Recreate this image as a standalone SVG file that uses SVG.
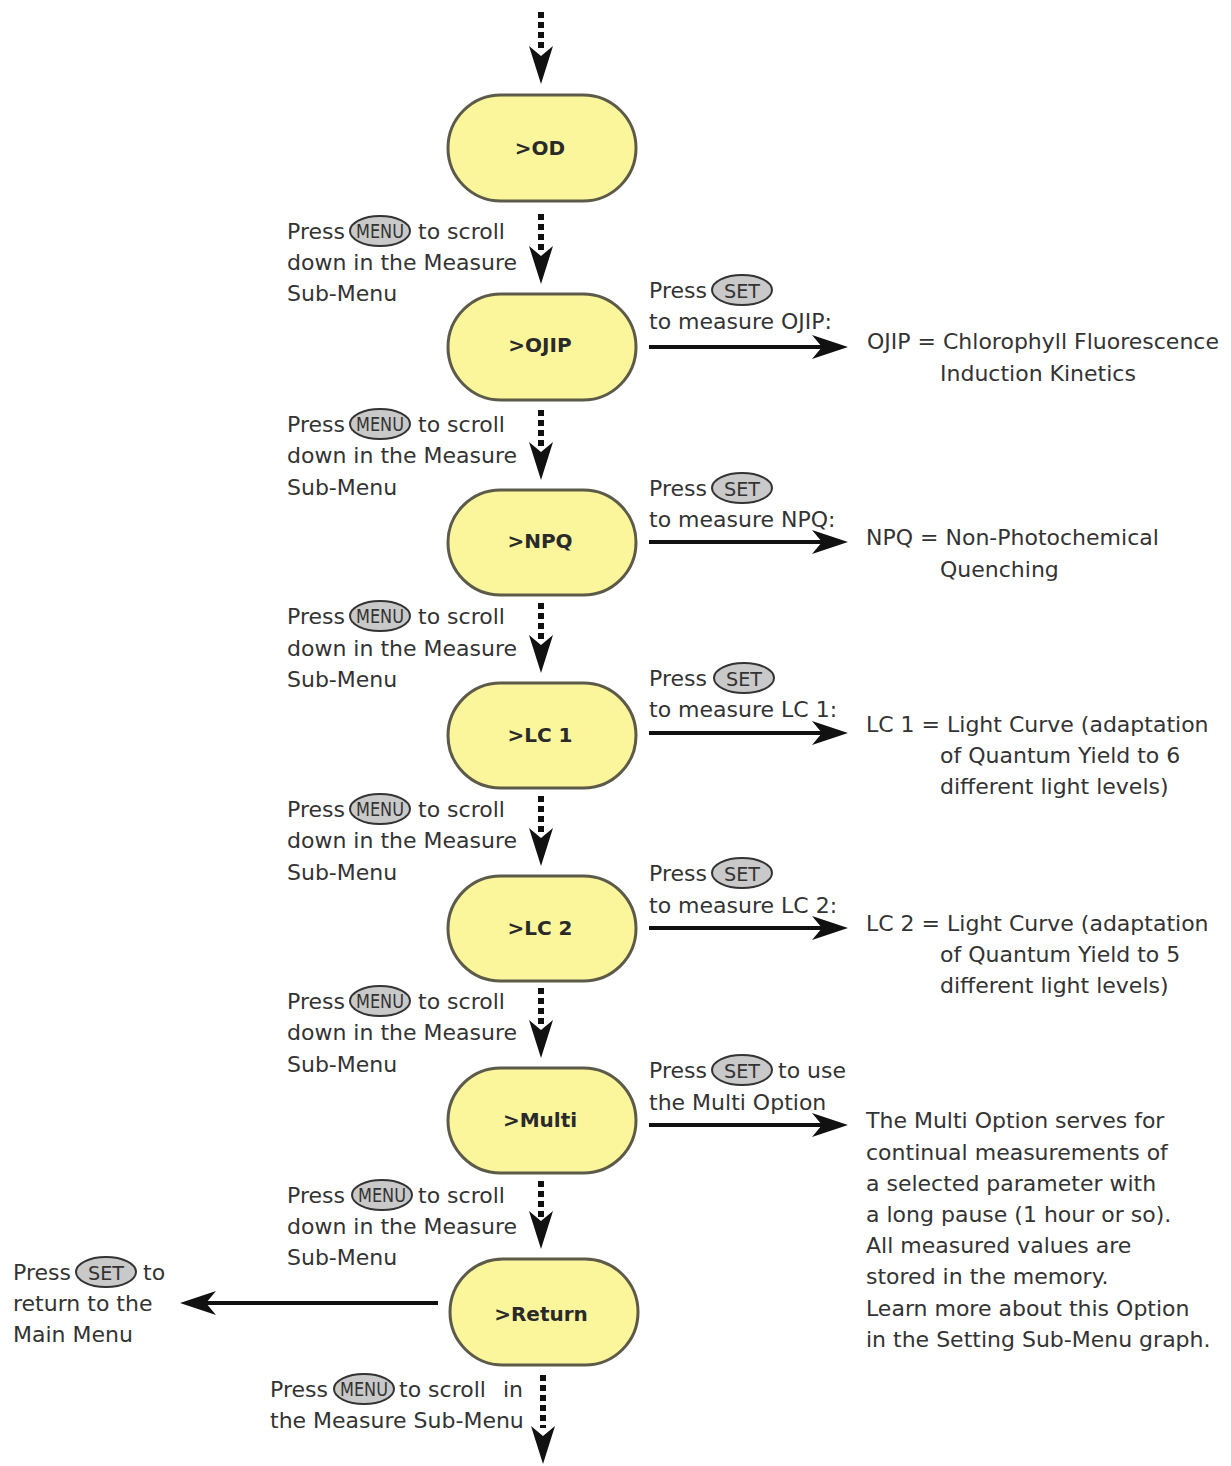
<svg xmlns="http://www.w3.org/2000/svg" xmlns:xlink="http://www.w3.org/1999/xlink" width="1231" height="1466" viewBox="0 0 1231 1466">
<style>
.node rect{fill:#fbf69c;stroke:#5c5a48;stroke-width:3}
.node text{font-family:"DejaVu Sans",sans-serif;font-weight:bold;font-size:20px;fill:#2a2a2a;text-anchor:middle}
.t{font-family:"DejaVu Sans",sans-serif;font-size:22px;fill:#333}
.btn ellipse{fill:#c9c9c9;stroke:#333;stroke-width:2}
.btn text{font-family:"DejaVu Sans Condensed","DejaVu Sans",sans-serif;font-size:19px;fill:#333;text-anchor:middle}
.dot{stroke:#111;stroke-width:6;stroke-dasharray:6 4;fill:none}
.sl{stroke:#111;stroke-width:4;fill:none}
.ah{fill:#111}
</style>
<defs>
<path id="hd" d="M0,0 L-12,-38 L0,-28 L12,-38 Z"/>
<path id="hr" d="M0,0 L-36,-12 L-26,0 L-36,12 Z"/>
</defs>
<rect width="1231" height="1466" fill="#fff"/>
<g id="connectors">
<line class="dot" x1="541" y1="12" x2="541" y2="50"/>
<use href="#hd" class="ah" x="541" y="84"/>
<line class="dot" x1="541" y1="214" x2="541" y2="254"/>
<use href="#hd" class="ah" x="541" y="284"/>
<line class="dot" x1="541" y1="410" x2="541" y2="450"/>
<use href="#hd" class="ah" x="541" y="480"/>
<line class="dot" x1="541" y1="603" x2="541" y2="643"/>
<use href="#hd" class="ah" x="541" y="673"/>
<line class="dot" x1="541" y1="796" x2="541" y2="836"/>
<use href="#hd" class="ah" x="541" y="866"/>
<line class="dot" x1="541" y1="988" x2="541" y2="1028"/>
<use href="#hd" class="ah" x="541" y="1058"/>
<line class="dot" x1="541" y1="1181" x2="541" y2="1221"/>
<use href="#hd" class="ah" x="541" y="1249"/>
<line class="dot" x1="543" y1="1375" x2="543" y2="1428"/>
<use href="#hd" class="ah" x="543" y="1464"/>
<line class="sl" x1="649" y1="347" x2="826" y2="347"/>
<use href="#hr" class="ah" x="848" y="347"/>
<line class="sl" x1="649" y1="542" x2="826" y2="542"/>
<use href="#hr" class="ah" x="848" y="542"/>
<line class="sl" x1="649" y1="733" x2="826" y2="733"/>
<use href="#hr" class="ah" x="848" y="733"/>
<line class="sl" x1="649" y1="928" x2="826" y2="928"/>
<use href="#hr" class="ah" x="848" y="928"/>
<line class="sl" x1="649" y1="1125" x2="826" y2="1125"/>
<use href="#hr" class="ah" x="848" y="1125"/>
<line class="sl" x1="438" y1="1303" x2="202" y2="1303"/>
<use href="#hr" class="ah" transform="translate(180,1303) rotate(180)"/>
</g>
<g id="n-od" class="node"><rect x="448" y="95" width="188" height="106" rx="53"/><text x="540" y="155">&gt;OD</text></g>
<g id="n-ojip" class="node"><rect x="448" y="294" width="188" height="106" rx="53"/><text x="540" y="352">&gt;OJIP</text></g>
<g id="n-npq" class="node"><rect x="448" y="490" width="188" height="105" rx="52.5"/><text x="540" y="548">&gt;NPQ</text></g>
<g id="n-lc1" class="node"><rect x="448" y="683" width="188" height="105" rx="52.5"/><text x="540" y="742">&gt;LC 1</text></g>
<g id="n-lc2" class="node"><rect x="448" y="876" width="188" height="105" rx="52.5"/><text x="540" y="935">&gt;LC 2</text></g>
<g id="n-multi" class="node"><rect x="448" y="1068" width="188" height="105" rx="52.5"/><text x="540" y="1127">&gt;Multi</text></g>
<g id="n-return" class="node"><rect x="450" y="1259" width="188" height="106" rx="53"/><text x="541" y="1321">&gt;Return</text></g>
<g id="labels">
<g id="l1"><text class="t" x="287" y="239">Press</text><g class="btn"><ellipse cx="380" cy="231" rx="30" ry="15"/><text x="380" y="238" textLength="48" lengthAdjust="spacingAndGlyphs">MENU</text></g><text class="t" x="418" y="239">to scroll</text><text class="t" x="287" y="270">down in the Measure</text><text class="t" x="287" y="301">Sub-Menu</text></g>
<g id="l2"><text class="t" x="287" y="432">Press</text><g class="btn"><ellipse cx="380" cy="424" rx="30" ry="15"/><text x="380" y="431" textLength="48" lengthAdjust="spacingAndGlyphs">MENU</text></g><text class="t" x="418" y="432">to scroll</text><text class="t" x="287" y="463">down in the Measure</text><text class="t" x="287" y="495">Sub-Menu</text></g>
<g id="l3"><text class="t" x="287" y="624">Press</text><g class="btn"><ellipse cx="380" cy="616" rx="30" ry="15"/><text x="380" y="623" textLength="48" lengthAdjust="spacingAndGlyphs">MENU</text></g><text class="t" x="418" y="624">to scroll</text><text class="t" x="287" y="656">down in the Measure</text><text class="t" x="287" y="687">Sub-Menu</text></g>
<g id="l4"><text class="t" x="287" y="817">Press</text><g class="btn"><ellipse cx="380" cy="809" rx="30" ry="15"/><text x="380" y="816" textLength="48" lengthAdjust="spacingAndGlyphs">MENU</text></g><text class="t" x="418" y="817">to scroll</text><text class="t" x="287" y="848">down in the Measure</text><text class="t" x="287" y="880">Sub-Menu</text></g>
<g id="l5"><text class="t" x="287" y="1009">Press</text><g class="btn"><ellipse cx="380" cy="1001" rx="30" ry="15"/><text x="380" y="1008" textLength="48" lengthAdjust="spacingAndGlyphs">MENU</text></g><text class="t" x="418" y="1009">to scroll</text><text class="t" x="287" y="1040">down in the Measure</text><text class="t" x="287" y="1072">Sub-Menu</text></g>
<g id="l6"><text class="t" x="287" y="1203">Press</text><g class="btn"><ellipse cx="382" cy="1195" rx="30" ry="15"/><text x="382" y="1202" textLength="48" lengthAdjust="spacingAndGlyphs">MENU</text></g><text class="t" x="418" y="1203">to scroll</text><text class="t" x="287" y="1234">down in the Measure</text><text class="t" x="287" y="1265">Sub-Menu</text></g>
<g id="l7"><text class="t" x="270" y="1397">Press</text><g class="btn"><ellipse cx="364" cy="1389" rx="30" ry="15"/><text x="364" y="1396" textLength="48" lengthAdjust="spacingAndGlyphs">MENU</text></g><text class="t" x="399" y="1397">to scroll</text><text class="t" x="503" y="1397">in</text><text class="t" x="270" y="1428">the Measure Sub-Menu</text></g>
<g id="r1"><text class="t" x="649" y="298">Press</text><g class="btn"><ellipse cx="742" cy="290" rx="30" ry="15"/><text x="742" y="298" font-size="21" textLength="36" lengthAdjust="spacingAndGlyphs">SET</text></g><text class="t" x="649" y="329">to measure OJIP:</text>
<text class="t" x="867" y="349">OJIP = Chlorophyll Fluorescence</text><text class="t" x="940" y="381">Induction Kinetics</text></g>
<g id="r2"><text class="t" x="649" y="496">Press</text><g class="btn"><ellipse cx="742" cy="488" rx="30" ry="15"/><text x="742" y="496" font-size="21" textLength="36" lengthAdjust="spacingAndGlyphs">SET</text></g><text class="t" x="649" y="527">to measure NPQ:</text>
<text class="t" x="866" y="545">NPQ = Non-Photochemical</text><text class="t" x="940" y="577">Quenching</text></g>
<g id="r3"><text class="t" x="649" y="686">Press</text><g class="btn"><ellipse cx="744" cy="678" rx="30" ry="15"/><text x="744" y="686" font-size="21" textLength="36" lengthAdjust="spacingAndGlyphs">SET</text></g><text class="t" x="649" y="717">to measure LC 1:</text>
<text class="t" x="866" y="732">LC 1 = Light Curve (adaptation</text><text class="t" x="940" y="763">of Quantum Yield to 6</text><text class="t" x="940" y="794">different light levels)</text></g>
<g id="r4"><text class="t" x="649" y="881">Press</text><g class="btn"><ellipse cx="742" cy="873" rx="30" ry="15"/><text x="742" y="881" font-size="21" textLength="36" lengthAdjust="spacingAndGlyphs">SET</text></g><text class="t" x="649" y="913">to measure LC 2:</text>
<text class="t" x="866" y="931">LC 2 = Light Curve (adaptation</text><text class="t" x="940" y="962">of Quantum Yield to 5</text><text class="t" x="940" y="993">different light levels)</text></g>
<g id="r5"><text class="t" x="649" y="1078">Press</text><g class="btn"><ellipse cx="742" cy="1070" rx="30" ry="15"/><text x="742" y="1078" font-size="21" textLength="36" lengthAdjust="spacingAndGlyphs">SET</text></g><text class="t" x="778" y="1078">to use</text><text class="t" x="649" y="1110">the Multi Option</text>
<text class="t" x="866" y="1128">The Multi Option serves for</text><text class="t" x="866" y="1160">continual measurements of</text><text class="t" x="866" y="1191">a selected parameter with</text><text class="t" x="866" y="1222">a long pause (1 hour or so).</text><text class="t" x="866" y="1253">All measured values are</text><text class="t" x="866" y="1284">stored in the memory.</text><text class="t" x="866" y="1316">Learn more about this Option</text><text class="t" x="866" y="1347">in the Setting Sub-Menu graph.</text></g>
<g id="r6"><text class="t" x="13" y="1280">Press</text><g class="btn"><ellipse cx="106" cy="1272" rx="30" ry="15"/><text x="106" y="1280" font-size="21" textLength="36" lengthAdjust="spacingAndGlyphs">SET</text></g><text class="t" x="143" y="1280">to</text><text class="t" x="13" y="1311">return to the</text><text class="t" x="13" y="1342">Main Menu</text></g>
</g>
</svg>
